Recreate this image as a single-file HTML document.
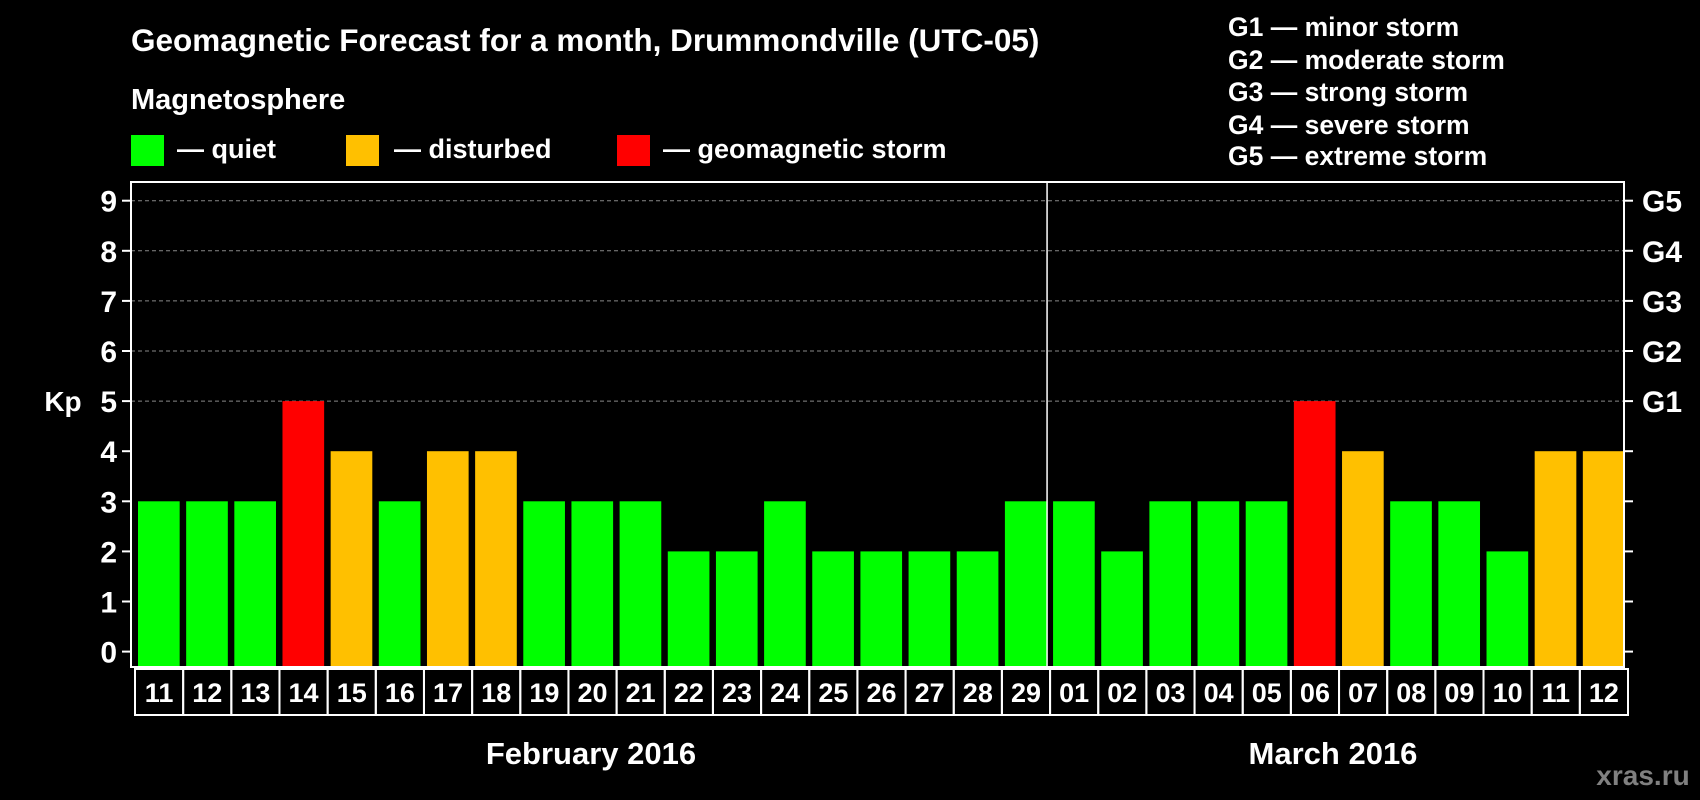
<!DOCTYPE html>
<html><head><meta charset="utf-8"><style>
html,body{margin:0;padding:0;background:#000;}
svg{display:block;font-family:"Liberation Sans",sans-serif;font-weight:bold;}
</style></head><body>
<svg id="c" width="1700" height="800" viewBox="0 0 1700 800" xmlns="http://www.w3.org/2000/svg">
<text x="131" y="51" fill="#fff" font-size="31.5">Geomagnetic Forecast for a month, Drummondville (UTC-05)</text>
<text x="131" y="109" fill="#fff" font-size="29">Magnetosphere</text>
<g><rect x="131" y="135" width="33" height="31" fill="#00ff00"/><text x="177" y="158" fill="#fff" font-size="27">— quiet</text></g>
<g><rect x="346" y="135" width="33" height="31" fill="#ffc000"/><text x="394" y="158" fill="#fff" font-size="27">— disturbed</text></g>
<g><rect x="617" y="135" width="33" height="31" fill="#ff0000"/><text x="663" y="158" fill="#fff" font-size="27">— geomagnetic storm</text></g>
<g fill="#fff" font-size="26.5">
<text x="1228" y="36">G1 — minor storm</text>
<text x="1228" y="69">G2 — moderate storm</text>
<text x="1228" y="101">G3 — strong storm</text>
<text x="1228" y="134">G4 — severe storm</text>
<text x="1228" y="165">G5 — extreme storm</text>
</g>
<text x="63" y="411" fill="#fff" font-size="28" text-anchor="middle">Kp</text>
<text x="591" y="764" fill="#fff" font-size="31" text-anchor="middle">February 2016</text>
<text x="1333" y="764" fill="#fff" font-size="31" text-anchor="middle">March 2016</text>
<text x="1643" y="785" fill="#808080" font-size="28" text-anchor="middle">xras.ru</text>
<g id="plot"></g>
</svg>
<script>
const days = ["11","12","13","14","15","16","17","18","19","20","21","22","23","24","25","26","27","28","29","01","02","03","04","05","06","07","08","09","10","11","12"];
const kpValues = [3,3,3,5,4,3,4,4,3,3,3,2,2,3,2,2,2,2,3,3,2,3,3,3,5,4,3,3,2,4,4];
const yTicks = [0,1,2,3,4,5,6,7,8,9];
const gLabels = ["G1","G2","G3","G4","G5"];
const gLevels = [5,6,7,8,9];
const febCount = 19;

const NS="http://www.w3.org/2000/svg";
const L=131,R=1624,T=182,B=667;
const slot=(R-L)/days.length;
const xPos=i=>L+i*slot;
const yPos=v=>651.6-50.1*v;
const g=document.getElementById('plot');
function mk(t,a){const e=document.createElementNS(NS,t);for(const k in a)e.setAttribute(k,a[k]);g.appendChild(e);return e;}
yTicks.forEach(v=>{
  if(v>=5){const l=mk('line',{x1:L,x2:R,y1:yPos(v),y2:yPos(v),stroke:'#888','stroke-dasharray':'4,3','stroke-width':1});
  
  }
  const t=mk('line',{x1:L-9,x2:L,y1:yPos(v),y2:yPos(v),stroke:'#fff','stroke-width':2});
  
  
  const t2=mk('line',{x1:R,x2:R+9,y1:yPos(v),y2:yPos(v),stroke:'#fff','stroke-width':2});
  
  
  const lab=mk('text',{x:L-14,y:yPos(v)+11,fill:'#fff','font-size':30,'text-anchor':'end'});
  lab.textContent=v;
  
  
});
gLabels.forEach((s,i)=>{
  const t=mk('text',{x:R+18,y:yPos(gLevels[i])+11,fill:'#fff','font-size':30});
  t.textContent=s;
  
  
});
kpValues.forEach((v,i)=>{
  const c=v>=5?'#ff0000':(v>=4?'#ffc000':'#00ff00');
  const y=yPos(v);
  const r=mk('rect',{x:xPos(i)+7,y:y,width:slot-6.5,height:B-y,fill:c});
  
  
  const box=mk('rect',{x:xPos(i)+4,y:B+2,width:slot,height:46,fill:'none',stroke:'#fff','stroke-width':2});
  
  
  const t=mk('text',{x:xPos(i)+4+slot/2,y:B+35,fill:'#fff','font-size':27,'text-anchor':'middle'});
  t.textContent=days[i];
  
  
});
const fr=mk('rect',{x:L,y:T,width:R-L,height:B-T,fill:'none',stroke:'#fff','stroke-width':2});


const dv=mk('line',{x1:xPos(febCount)+1,x2:xPos(febCount)+1,y1:T,y2:B,stroke:'#fff','stroke-width':1.5});


</script>
</body></html>
